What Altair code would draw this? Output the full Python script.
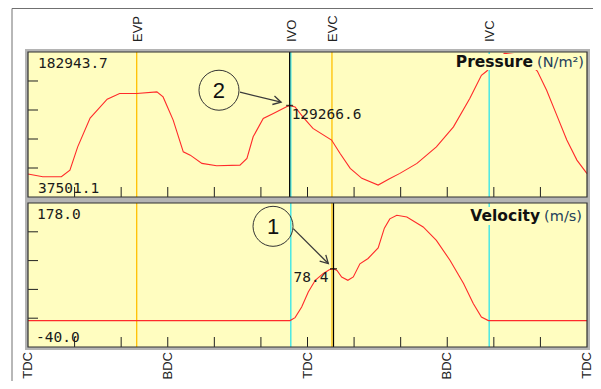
import altair as alt
import pandas as pd

# ---------------- values ----------------
P_MIN, P_MAX = 37501.1, 182943.7          # Pressure panel range (N/m²)
V_MIN, V_MAX = -40.0, 178.0               # Velocity panel range (m/s)
A_MIN, A_MAX = 0, 720                     # crank angle (deg)

p_angle = [0, 19, 43, 54, 64, 80, 102, 118, 140, 166, 174, 187, 200, 209, 224,
           243, 273, 282, 290, 303, 316, 333, 337, 344, 354, 367, 391, 402, 415,
           430, 451, 465, 479, 501, 526, 548, 569, 584, 591, 603, 614, 626, 640,
           656, 668, 681, 694, 707, 720]
p_value = [60500, 57800, 57800, 64500, 87800, 116600, 135600, 141300, 141300,
           142900, 137900, 114600, 82800, 79500, 71200, 68800, 69500, 76200,
           97900, 116300, 121300, 128000, 129266.6, 127900, 117900, 106300, 94600,
           81200, 66200, 56200, 49500, 55500, 61200, 71200, 87800, 107900, 136300,
           159600, 163900, 176000, 181500, 180500, 175000, 163900, 144600, 119600,
           94600, 74500, 61000]

v_angle = [0, 337.5, 344, 352.5, 361, 370, 380, 388, 393.5, 398, 404, 412, 419,
           427.5, 438, 451, 459, 466, 475, 488, 509, 526, 543.5, 561, 573.5, 584,
           593, 720]
v_value = [0, 0, 4.5, 20.6, 43.3, 61, 71, 77, 78.4, 76, 66, 61, 66, 86, 94, 110,
           140, 154, 159.4, 156.8, 141.7, 121.5, 91.3, 56, 25.7, 5.4, 0, 0]

event_names = ["EVP", "IVO", "EVC", "IVC"]
event_angles = [140, 338.5, 391.5, 594]
event_kinds = ["exhaust", "intake", "exhaust", "intake"]

crank_names = ["TDC", "BDC", "TDC", "BDC", "TDC"]
crank_angles = [0, 180, 360, 540, 720]

x_tick_angles = [60, 120, 180, 240, 300, 360, 420, 480, 540, 600, 660]
p_tick_values = [66589.6, 95678.1, 124766.6, 153855.2]
v_tick_values = [3.6, 47.2, 90.8, 134.4]

cursor_p_angle, cursor_p_value = 337.0, 129266.6
cursor_v_angle, cursor_v_value = 393.5, 78.4

# callouts (in data units of their panel)
callout_p = {"num": "2", "cx": 246, "cy": 144600, "tx": 273, "ty": 142600,
             "hx": 326, "hy": 132600, "dir": 14}
callout_v = {"num": "1", "cx": 315.6, "cy": 142.7, "tx": 341.7, "ty": 139.2,
             "hx": 386.8, "hy": 86.3, "dir": 45}

# ---------------- styles ----------------
YELLOW = "#FFFDC0"
ORANGE = "#FFC000"
CYAN = "#2FE4EA"
RED = "#FF2A2A"
MONO = "DejaVu Sans Mono"
SANS = "Liberation Sans"

XS = alt.Scale(domain=[A_MIN, A_MAX], nice=False, zero=False)
PS = alt.Scale(domain=[P_MIN, P_MAX], range=[145, 0], nice=False, zero=False)
VS = alt.Scale(domain=[V_MIN, V_MAX], range=[295, 151], nice=False, zero=False)


def X(f):
    return alt.X(f, type="quantitative", scale=XS, axis=None)


def YP(f):
    return alt.Y(f, type="quantitative", scale=PS, axis=None)


def YV(f):
    return alt.Y(f, type="quantitative", scale=VS, axis=None)


frame = pd.DataFrame({"a0": [A_MIN], "a1": [A_MAX], "pmin": [P_MIN], "pmax": [P_MAX],
                      "vmin": [V_MIN], "vmax": [V_MAX], "pbox": [543], "vbox": [560]})
p_df = pd.DataFrame({"angle": p_angle, "value": p_value})
v_df = pd.DataFrame({"angle": v_angle, "value": v_value})
ev_df = pd.DataFrame({"name": event_names, "angle": event_angles, "kind": event_kinds,
                      "pmin": P_MIN, "pmax": P_MAX, "vmin": V_MIN, "vmax": V_MAX})
crank_df = pd.DataFrame({"name": crank_names, "angle": crank_angles, "vmin": V_MIN})
xt_df = pd.DataFrame({"angle": x_tick_angles, "pmin": P_MIN, "vmin": V_MIN})
pt_df = pd.DataFrame({"a0": A_MIN, "value": p_tick_values})
vt_df = pd.DataFrame({"a0": A_MIN, "value": v_tick_values})
cur_df = pd.DataFrame({"pa": [cursor_p_angle], "pv": [cursor_p_value],
                       "va": [cursor_v_angle], "vv": [cursor_v_value],
                       "pmin": [P_MIN], "pmax": [P_MAX], "vmin": [V_MIN], "vmax": [V_MAX],
                       "plabel": [f"{cursor_p_value:.1f}"], "vlabel": [f"{cursor_v_value:.1f}"]})
co_p = pd.DataFrame([callout_p])
co_v = pd.DataFrame([callout_v])

color_ev = alt.Color("kind:N", scale=alt.Scale(domain=["exhaust", "intake"], range=[ORANGE, CYAN]),
                     legend=None)

layers = []
base = alt.Chart(frame)

# panel shells (grey bevel + yellow face)
layers.append(base.mark_rect(fill="#B4B4B4", xOffset=-3, x2Offset=3, yOffset=3, y2Offset=-3)
              .encode(x=X("a0:Q"), x2="a1:Q", y=YP("pmin:Q"), y2="pmax:Q"))
layers.append(base.mark_rect(fill="#B4B4B4", xOffset=-3, x2Offset=3, yOffset=3, y2Offset=-3)
              .encode(x=X("a0:Q"), x2="a1:Q", y=YV("vmin:Q"), y2="vmax:Q"))
layers.append(base.mark_rect(fill=YELLOW).encode(x=X("a0:Q"), x2="a1:Q", y=YP("pmin:Q"), y2="pmax:Q"))
layers.append(base.mark_rect(fill=YELLOW).encode(x=X("a0:Q"), x2="a1:Q", y=YV("vmin:Q"), y2="vmax:Q"))

# valve event lines
ev = alt.Chart(ev_df)
layers.append(ev.mark_rule(strokeWidth=1.3).encode(x=X("angle:Q"), y=YP("pmin:Q"), y2="pmax:Q", color=color_ev))
layers.append(ev.mark_rule(strokeWidth=1.3).encode(x=X("angle:Q"), y=YV("vmin:Q"), y2="vmax:Q", color=color_ev))

# inner ticks
xt = alt.Chart(xt_df)
layers.append(xt.mark_rule(color="#202020", y2Offset=-10).encode(x=X("angle:Q"), y=YP("pmin:Q"), y2="pmin:Q"))
layers.append(xt.mark_rule(color="#202020", y2Offset=-10).encode(x=X("angle:Q"), y=YV("vmin:Q"), y2="vmin:Q"))
layers.append(alt.Chart(pt_df).mark_rule(color="#202020", x2Offset=10)
              .encode(x=X("a0:Q"), x2="a0:Q", y=YP("value:Q")))
layers.append(alt.Chart(vt_df).mark_rule(color="#202020", x2Offset=10)
              .encode(x=X("a0:Q"), x2="a0:Q", y=YV("value:Q")))

# curves
layers.append(alt.Chart(p_df).mark_line(color=RED, strokeWidth=1.1).encode(x=X("angle:Q"), y=YP("value:Q")))
layers.append(alt.Chart(v_df).mark_line(color=RED, strokeWidth=1.1).encode(x=X("angle:Q"), y=YV("value:Q")))

# title boxes and titles
layers.append(base.mark_rect(fill=YELLOW, yOffset=18, y2Offset=2, x2Offset=-1)
              .encode(x=X("pbox:Q"), x2="a1:Q", y=YP("pmax:Q"), y2="pmax:Q"))
layers.append(base.mark_rect(fill=YELLOW, yOffset=22, y2Offset=4, x2Offset=-1)
              .encode(x=X("vbox:Q"), x2="a1:Q", y=YV("vmax:Q"), y2="vmax:Q"))
layers.append(base.mark_text(text="Pressure", font="DejaVu Sans", fontWeight="bold", fontSize=15.5,
                             align="right", baseline="alphabetic", dx=-54, dy=15, color="#111111")
              .encode(x=X("a1:Q"), y=YP("pmax:Q")))
layers.append(base.mark_text(text="(N/m²)", font="DejaVu Sans", fontSize=14.5, align="right",
                             baseline="alphabetic", dx=-3, dy=15, color="#23405A")
              .encode(x=X("a1:Q"), y=YP("pmax:Q")))
layers.append(base.mark_text(text="Velocity", font="DejaVu Sans", fontWeight="bold", fontSize=15.5,
                             align="right", baseline="alphabetic", dx=-47, dy=17.5, color="#111111")
              .encode(x=X("a1:Q"), y=YV("vmax:Q")))
layers.append(base.mark_text(text="(m/s)", font="DejaVu Sans", fontSize=14.5, align="right",
                             baseline="alphabetic", dx=-5, dy=17.5, color="#23405A")
              .encode(x=X("a1:Q"), y=YV("vmax:Q")))

# range labels
mono = dict(font=MONO, fontSize=14.5, color="#1a1a1a", align="left", baseline="alphabetic")
layers.append(base.mark_text(text=f"{P_MAX:.1f}", dx=10, dy=16, **mono).encode(x=X("a0:Q"), y=YP("pmax:Q")))
layers.append(base.mark_text(text=f"{P_MIN:.1f}", dx=10, dy=-4, **mono).encode(x=X("a0:Q"), y=YP("pmin:Q")))
layers.append(base.mark_text(text=f"{V_MAX:.1f}", dx=9, dy=15.5, **mono).encode(x=X("a0:Q"), y=YV("vmax:Q")))
layers.append(base.mark_text(text=f"{V_MIN:.1f}", dx=8, dy=-5, **mono).encode(x=X("a0:Q"), y=YV("vmin:Q")))

# cursors
cur = alt.Chart(cur_df)
layers.append(cur.mark_rule(color="#000000", strokeWidth=1.2).encode(x=X("pa:Q"), y=YP("pmin:Q"), y2="pmax:Q"))
layers.append(cur.mark_rule(color="#000000", strokeWidth=1.2).encode(x=X("va:Q"), y=YV("vmin:Q"), y2="vmax:Q"))
layers.append(cur.mark_tick(orient="horizontal", size=7, thickness=1.5, color="#000000")
              .encode(x=X("pa:Q"), y=YP("pv:Q")))
layers.append(cur.mark_tick(orient="horizontal", size=7, thickness=1.5, color="#000000")
              .encode(x=X("va:Q"), y=YV("vv:Q")))
layers.append(cur.mark_text(font=MONO, fontSize=14.5, color="#1a1a1a", align="left",
                            baseline="alphabetic", dx=2, dy=13)
              .encode(x=X("pa:Q"), y=YP("pv:Q"), text="plabel:N"))
layers.append(cur.mark_text(font=MONO, fontSize=14.5, color="#1a1a1a", align="right",
                            baseline="alphabetic", dx=-5, dy=13.5)
              .encode(x=X("va:Q"), y=YV("vv:Q"), text="vlabel:N"))

# callouts
ARROW = "M-1,-0.55L0,0L-1,0.55"
for df, Y in ((co_p, YP), (co_v, YV)):
    c = alt.Chart(df)
    layers.append(c.mark_point(shape="circle", size=1600, filled=False, color="#333333", strokeWidth=1,
                               opacity=1).encode(x=X("cx:Q"), y=Y("cy:Q")))
    layers.append(c.mark_text(font=SANS, fontSize=22, color="#111111", baseline="middle", align="center",
                              dy=1).encode(x=X("cx:Q"), y=Y("cy:Q"), text="num:N"))
    layers.append(c.mark_rule(color="#3a3a3a", strokeWidth=1.3)
                  .encode(x=X("tx:Q"), x2="hx:Q", y=Y("ty:Q"), y2="hy:Q"))
    layers.append(c.mark_point(shape=ARROW, size=250, filled=False, color="#3a3a3a", strokeWidth=1.3,
                               opacity=1).encode(x=X("hx:Q"), y=Y("hy:Q"),
                                                 angle=alt.Angle("dir:Q", scale=None)))

# dark panel borders
layers.append(base.mark_rect(fill=None, stroke="#303030", strokeWidth=1.2)
              .encode(x=X("a0:Q"), x2="a1:Q", y=YP("pmin:Q"), y2="pmax:Q"))
layers.append(base.mark_rect(fill=None, stroke="#303030", strokeWidth=1.2)
              .encode(x=X("a0:Q"), x2="a1:Q", y=YV("vmin:Q"), y2="vmax:Q"))

# outer frame
layers.append(base.mark_rule(color="#707070", strokeWidth=1, xOffset=-16, x2Offset=20, yOffset=-43.5)
              .encode(x=X("a0:Q"), x2="a1:Q", y=YP("pmax:Q")))
layers.append(base.mark_rule(color="#707070", strokeWidth=1, xOffset=-16, yOffset=-43.5, y2Offset=190)
              .encode(x=X("a0:Q"), y=YP("pmax:Q"), y2="pmin:Q"))

# event names (top) and crank positions (bottom)
layers.append(ev.mark_text(font=SANS, fontSize=13, color="#222222", angle=270, align="left",
                           baseline="middle", yOffset=-10, xOffset=1)
              .encode(x=X("angle:Q"), y=YP("pmax:Q"), text="name:N"))
layers.append(alt.Chart(crank_df).mark_text(font=SANS, fontSize=13, color="#222222", angle=270,
                                            align="right", baseline="middle", yOffset=5)
              .encode(x=X("angle:Q"), y=YV("vmin:Q"), text="name:N"))

chart = (
    alt.layer(*layers)
    .resolve_scale(y="independent")
    .properties(width=559, height=295, autosize=alt.AutoSizeParams(type="none"),
                padding={"left": 20, "top": 44, "right": 6, "bottom": 34})
    .configure_view(stroke=None)
)

chart.save("out.html", embed_options={"renderer": "svg", "actions": False})
